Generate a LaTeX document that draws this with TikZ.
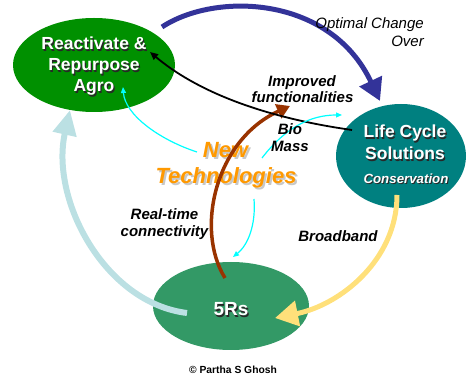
\documentclass[tikz,border=0pt]{standalone}
\usepackage{fontspec}
\setmainfont{Liberation Sans}
\usetikzlibrary{arrows.meta,shapes.geometric}
\definecolor{agrogreen}{RGB}{0,144,0}
\definecolor{tealc}{RGB}{0,128,128}
\definecolor{rsgreen}{RGB}{51,153,102}
\definecolor{bluec}{RGB}{51,51,153}
\definecolor{brownc}{RGB}{153,51,0}
\definecolor{lightbluec}{RGB}{187,224,227}
\definecolor{yellowc}{RGB}{255,224,122}
\definecolor{orangec}{RGB}{255,153,0}
\definecolor{cyanc}{RGB}{0,255,255}
\definecolor{shadowc}{RGB}{40,40,40}
\definecolor{lshadowc}{RGB}{200,200,200}
% text with a drop shadow: #1 shadow colour, #2 offset, #3 text
\newcommand{\shd}[3]{\makebox[0pt][l]{\hspace{#2}\raisebox{-#2}{\color{#1}#3}}#3}
\begin{document}
\begin{tikzpicture}[x=1pt,y=-1pt,
  blob/.style={ellipse, inner sep=0pt, draw=none},
  txt/.style={anchor=base, inner sep=0pt},
  big/.style={txt, white, font=\fontsize{17.5}{20}\selectfont\bfseries},
  lbl/.style={txt, font=\fontsize{15}{18}\selectfont\bfseries\itshape},
  newtech/.style={txt, orangec, font=\fontsize{22}{26}\selectfont\bfseries\itshape},
  thin/.style={cyanc, line width=1.2pt, -{Triangle[length=6pt,width=5pt]}}
]
\useasboundingbox (0,0) rectangle (467,379);

% ellipses
\node[blob, fill=agrogreen, minimum width=162pt, minimum height=94pt] (agro) at (94,65) {};
\node[blob, fill=tealc, minimum width=130pt, minimum height=104pt] (life) at (401,156) {};
\node[blob, fill=rsgreen, minimum width=156pt, minimum height=88pt] (rs) at (231,306) {};

% New Technologies (under the connectors)
\node[newtech] (n1) at (225.5,158) {\shd{lshadowc}{2pt}{New}};
\node[newtech] (n2) at (226,184) {\shd{lshadowc}{2pt}{Technologies}};

% connector endpoints
\coordinate (bS) at (162,27);   \coordinate (bE) at (380,101);
\coordinate (kS) at (352,130);  \coordinate (kE) at (150,52);
\coordinate (lS) at (187,313);  \coordinate (lE) at (70,110);
\coordinate (yS) at (397,195);  \coordinate (yE) at (275,318);
\coordinate (rS) at (225,278);  \coordinate (rE) at (290,106);
\coordinate (c1S) at (197,152); \coordinate (c1E) at (123,87);
\coordinate (c2S) at (262,158); \coordinate (c2E) at (342,115);
\coordinate (c3S) at (254,199); \coordinate (c3E) at (233,257);

% connectors
\draw[bluec, line width=5pt, -{Triangle[length=22pt,width=24pt]}]
  (bS) .. controls (215,-8) and (330,-5) .. (bE);
\draw[lightbluec, line width=6pt, -{Triangle[length=25pt,width=23pt]}]
  (lS) .. controls (105,303) and (50,200) .. (lE);
\draw[yellowc, line width=5pt, -{Triangle[length=23pt,width=25pt]}]
  (yS) .. controls (397,260) and (340,305) .. (yE);
\draw[brownc, line width=3.5pt, -{Triangle[length=13pt,width=15pt]}]
  (rS) .. controls (195,230) and (215,140) .. (rE);
\draw[black, line width=1.8pt, -{Triangle[length=8pt,width=7pt]}]
  (kS) .. controls (260,117) and (195,90) .. (kE);
\draw[thin] (c1S) .. controls (160,140) and (125,115) .. (c1E);
\draw[thin] (c2S) .. controls (285,128) and (310,115) .. (c2E);
\draw[thin] (c3S) .. controls (256,225) and (248,245) .. (c3E);

% ellipse texts with shadow
\node[big] (a1) at (94,50) {\shd{shadowc}{1.2pt}{Reactivate \&}};
\node[big] (a2) at (94,71) {\shd{shadowc}{1.2pt}{Repurpose}};
\node[big] (a3) at (94,92) {\shd{shadowc}{1.2pt}{Agro}};
\node[big] (l1) at (405,138) {\shd{shadowc}{1.2pt}{Life Cycle}};
\node[big] (l2) at (405,160) {\shd{shadowc}{1.2pt}{Solutions}};
\node[txt, white, font=\fontsize{13.3}{16}\selectfont\bfseries\itshape] (l3) at (406,184) {\shd{shadowc}{1pt}{Conservation}};
\node[txt, white, font=\fontsize{19}{22}\selectfont\bfseries] (r1) at (231,316) {\shd{shadowc}{1.2pt}{5Rs}};

% labels
\node[txt, anchor=base east, font=\fontsize{15}{18}\selectfont\itshape] (o1) at (424,29) {Optimal Change};
\node[txt, anchor=base east, font=\fontsize{15}{18}\selectfont\itshape] (o2) at (424,47) {Over};
\node[lbl] (i1) at (302,87) {Improved};
\node[lbl] (i2) at (302.5,103) {functionalities};
\node[lbl] (m1) at (290,135) {Bio};
\node[lbl] (m2) at (290,152) {Mass};
\node[lbl] (t1) at (164.5,220) {Real-time};
\node[lbl] (t2) at (164.5,237) {connectivity};
\node[lbl] (bb) at (338,242) {Broadband};
\node[txt, font=\fontsize{10.3}{12}\selectfont\bfseries] (cp) at (233,374) {© Partha S Ghosh};
\end{tikzpicture}
\end{document}
